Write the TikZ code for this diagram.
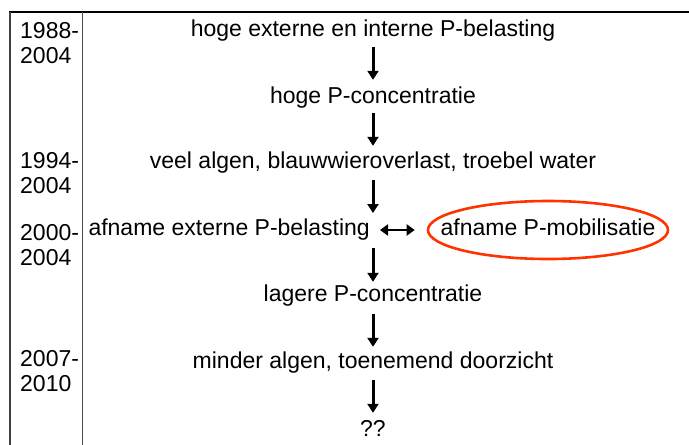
\documentclass[tikz,border=0pt]{standalone}
\usepackage{fontspec}
\setmainfont{Liberation Sans}
\usetikzlibrary{arrows.meta,shapes.geometric}
\definecolor{ovalred}{RGB}{255,51,0}
\begin{document}
\begin{tikzpicture}[x=1pt,y=-1pt,
  txt/.style={font=\fontsize{23}{25}\selectfont, inner sep=0pt, text height=16pt, text depth=5pt, anchor=center},
  yr/.style={font=\fontsize{23}{25}\selectfont, inner sep=0pt, anchor=north west, align=left},
  flow/.style={line width=3pt, -{Triangle[width=11pt,length=9pt]}},
  dbl/.style={line width=2.8pt, {Triangle[width=11pt,length=8pt]}-{Triangle[width=11pt,length=8pt]}}]
\useasboundingbox (0,0) rectangle (689,445);
% frame
\draw[line width=1.4pt] (9,12) -- (689,12);
\draw[line width=2.2pt, black!75] (10,12) -- (10,445);
\draw[line width=0.8pt, black!70] (82,12) -- (82,445);
% year labels
\node[yr] (y1) at (20,22) {1988-\\2004};
\node[yr] (y2) at (20,152) {1994-\\2004};
\node[yr] (y3) at (20,224) {2000-\\2004};
\node[yr] (y4) at (20,350) {2007-\\2010};
% chain
\node[txt] (a) at (373,31) {hoge externe en interne P-belasting};
\node[txt] (b) at (373,98) {hoge P-concentratie};
\node[txt] (c) at (373,163) {veel algen, blauwwieroverlast, troebel water};
\node[txt, anchor=east] (d) at (370,230) {afname externe P-belasting};
\node[txt] (e) at (373,296) {lagere P-concentratie};
\node[txt] (f) at (373,363) {minder algen, toenemend doorzicht};
\node[txt] (g) at (373,431) {??};
\node[draw=ovalred, line width=2.6pt, ellipse, minimum width=240pt, minimum height=58pt, inner sep=0pt] (m) at (548,230) {};
\node[txt] (mt) at (m.center) {afname P-mobilisatie};
\coordinate (dj) at (373,230);
\draw[flow, shorten <=5.5pt, shorten >=7.5pt] (a) -- (b);
\draw[flow, shorten <=4.5pt, shorten >=6.5pt] (b) -- (c);
\draw[flow, shorten <=6.5pt, shorten >=17pt] (c) -- (dj);
\draw[flow, shorten <=18pt, shorten >=3.5pt] (dj) -- (e);
\draw[flow, shorten <=7.5pt, shorten >=5.5pt] (e) -- (f);
\draw[flow, shorten <=6.5pt, shorten >=7.5pt] (f) -- (g);
\draw[dbl, shorten <=10pt, shorten >=12pt] (d.east) -- (m.west);
\end{tikzpicture}
\end{document}
